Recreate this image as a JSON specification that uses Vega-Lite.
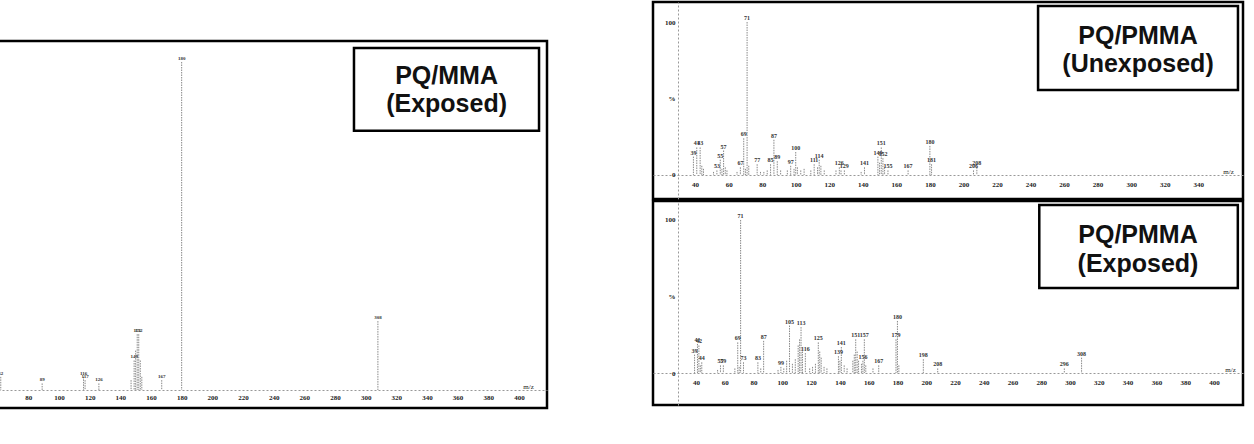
{
  "$schema": "https://vega.github.io/schema/vega-lite/v6.json",
  "padding": {"left": -4, "top": 0, "right": 0, "bottom": 0},
  "background": "white",
  "config": {
    "view": {"stroke": "black", "strokeWidth": 2.5},
    "axis": {"grid": false, "ticks": false, "labelOverlap": false, "labelFont": "Liberation Serif", "labelColor": "#222", "labelFontSize": 7, "labelFontWeight": "bold", "domainColor": "#999", "domainDash": [2, 2], "domainWidth": 1, "titleFont": "Liberation Serif", "titleFontSize": 7, "titleFontWeight": "normal", "titleColor": "#222"}
  },
  "datasets": {
    "mma_exposed": [
      {"mz": 61, "i": 2, "lab": ""}, {"mz": 62, "i": 4, "lab": "62"}, {"mz": 89, "i": 2, "lab": "89"},
      {"mz": 116, "i": 4, "lab": "116"}, {"mz": 117, "i": 3, "lab": "117"}, {"mz": 126, "i": 2, "lab": "126"},
      {"mz": 147, "i": 3, "lab": ""}, {"mz": 149, "i": 9, "lab": "149"}, {"mz": 150, "i": 12, "lab": ""},
      {"mz": 151, "i": 17, "lab": "151"}, {"mz": 152, "i": 17, "lab": "152"}, {"mz": 153, "i": 9, "lab": ""},
      {"mz": 154, "i": 4, "lab": ""}, {"mz": 167, "i": 3, "lab": "167"}, {"mz": 180, "i": 100, "lab": "180"},
      {"mz": 308, "i": 21, "lab": "308"}
    ],
    "pmma_unexposed": [
      {"mz": 39, "i": 12, "lab": "39"}, {"mz": 41, "i": 18, "lab": "41"}, {"mz": 43, "i": 18, "lab": "43"},
      {"mz": 44, "i": 6, "lab": ""}, {"mz": 45, "i": 4, "lab": ""}, {"mz": 51, "i": 2, "lab": ""},
      {"mz": 53, "i": 3, "lab": "53"}, {"mz": 55, "i": 10, "lab": "55"}, {"mz": 56, "i": 4, "lab": ""},
      {"mz": 57, "i": 16, "lab": "57"}, {"mz": 58, "i": 5, "lab": ""}, {"mz": 59, "i": 3, "lab": ""},
      {"mz": 65, "i": 2, "lab": ""}, {"mz": 67, "i": 5, "lab": "67"}, {"mz": 69, "i": 24, "lab": "69"},
      {"mz": 70, "i": 4, "lab": ""}, {"mz": 71, "i": 100, "lab": "71"}, {"mz": 72, "i": 6, "lab": ""},
      {"mz": 77, "i": 7, "lab": "77"}, {"mz": 79, "i": 2, "lab": ""}, {"mz": 81, "i": 2, "lab": ""},
      {"mz": 83, "i": 3, "lab": ""}, {"mz": 85, "i": 7, "lab": "85"}, {"mz": 87, "i": 23, "lab": "87"},
      {"mz": 89, "i": 9, "lab": "89"}, {"mz": 91, "i": 3, "lab": ""}, {"mz": 95, "i": 3, "lab": ""},
      {"mz": 97, "i": 6, "lab": "97"}, {"mz": 99, "i": 4, "lab": ""}, {"mz": 100, "i": 15, "lab": "100"},
      {"mz": 101, "i": 5, "lab": ""}, {"mz": 103, "i": 3, "lab": ""}, {"mz": 105, "i": 4, "lab": ""},
      {"mz": 109, "i": 3, "lab": ""}, {"mz": 111, "i": 7, "lab": "111"}, {"mz": 113, "i": 5, "lab": ""},
      {"mz": 114, "i": 10, "lab": "114"}, {"mz": 115, "i": 6, "lab": ""}, {"mz": 117, "i": 3, "lab": ""},
      {"mz": 124, "i": 3, "lab": ""}, {"mz": 126, "i": 5, "lab": "126"}, {"mz": 127, "i": 3, "lab": ""},
      {"mz": 129, "i": 3, "lab": "129"}, {"mz": 139, "i": 2, "lab": ""}, {"mz": 141, "i": 5, "lab": "141"},
      {"mz": 149, "i": 12, "lab": "149"}, {"mz": 150, "i": 8, "lab": ""}, {"mz": 151, "i": 18, "lab": "151"},
      {"mz": 152, "i": 11, "lab": "152"}, {"mz": 153, "i": 5, "lab": ""}, {"mz": 155, "i": 3, "lab": "155"},
      {"mz": 167, "i": 3, "lab": "167"}, {"mz": 180, "i": 19, "lab": "180"}, {"mz": 181, "i": 7, "lab": "181"},
      {"mz": 206, "i": 3, "lab": "206"}, {"mz": 208, "i": 5, "lab": "208"}
    ],
    "pmma_exposed": [
      {"mz": 39, "i": 12, "lab": "39"}, {"mz": 41, "i": 19, "lab": "41"}, {"mz": 42, "i": 18, "lab": "42"},
      {"mz": 43, "i": 5, "lab": ""}, {"mz": 44, "i": 7, "lab": "44"}, {"mz": 55, "i": 2, "lab": ""},
      {"mz": 57, "i": 5, "lab": "57"}, {"mz": 59, "i": 5, "lab": "59"}, {"mz": 67, "i": 3, "lab": ""},
      {"mz": 69, "i": 20, "lab": "69"}, {"mz": 70, "i": 4, "lab": ""}, {"mz": 71, "i": 100, "lab": "71"},
      {"mz": 73, "i": 7, "lab": "73"}, {"mz": 83, "i": 7, "lab": "83"}, {"mz": 85, "i": 3, "lab": ""},
      {"mz": 87, "i": 21, "lab": "87"}, {"mz": 97, "i": 2, "lab": ""}, {"mz": 99, "i": 4, "lab": "99"},
      {"mz": 101, "i": 3, "lab": ""}, {"mz": 103, "i": 8, "lab": ""}, {"mz": 105, "i": 31, "lab": "105"},
      {"mz": 107, "i": 6, "lab": ""}, {"mz": 109, "i": 9, "lab": ""}, {"mz": 111, "i": 18, "lab": ""},
      {"mz": 112, "i": 22, "lab": ""}, {"mz": 113, "i": 30, "lab": "113"}, {"mz": 114, "i": 14, "lab": ""},
      {"mz": 116, "i": 13, "lab": "116"}, {"mz": 119, "i": 3, "lab": ""}, {"mz": 121, "i": 4, "lab": ""},
      {"mz": 123, "i": 6, "lab": ""}, {"mz": 125, "i": 20, "lab": "125"}, {"mz": 126, "i": 14, "lab": ""},
      {"mz": 127, "i": 10, "lab": ""}, {"mz": 129, "i": 4, "lab": ""}, {"mz": 131, "i": 3, "lab": ""},
      {"mz": 139, "i": 11, "lab": "139"}, {"mz": 140, "i": 8, "lab": ""}, {"mz": 141, "i": 17, "lab": "141"},
      {"mz": 143, "i": 5, "lab": ""}, {"mz": 145, "i": 3, "lab": ""}, {"mz": 149, "i": 8, "lab": ""},
      {"mz": 150, "i": 12, "lab": ""}, {"mz": 151, "i": 22, "lab": "151"}, {"mz": 152, "i": 14, "lab": ""},
      {"mz": 153, "i": 8, "lab": ""}, {"mz": 155, "i": 6, "lab": ""}, {"mz": 156, "i": 8, "lab": "156"},
      {"mz": 157, "i": 22, "lab": "157"}, {"mz": 158, "i": 5, "lab": ""}, {"mz": 163, "i": 3, "lab": ""},
      {"mz": 167, "i": 5, "lab": "167"}, {"mz": 179, "i": 22, "lab": "179"}, {"mz": 180, "i": 34, "lab": "180"},
      {"mz": 181, "i": 5, "lab": ""}, {"mz": 198, "i": 9, "lab": "198"}, {"mz": 208, "i": 3, "lab": "208"},
      {"mz": 296, "i": 3, "lab": "296"}, {"mz": 308, "i": 10, "lab": "308"}
    ]
  },
  "spacing": 102,
  "hconcat": [
    {
      "spacing": 0,
      "vconcat": [
        {
          "width": 549,
          "height": 37,
          "view": {"stroke": null, "fill": "white"},
          "data": {"values": [{}]},
          "mark": {"type": "text", "text": ""}
        },
        {
          "width": 549,
          "height": 367,
          "layer": [
            {
              "data": {"name": "mma_exposed"},
              "encoding": {
                "x": {"field": "mz", "type": "quantitative", "scale": {"domain": [60.2, 418.3], "nice": false, "zero": false},
                      "axis": {"values": [80, 100, 120, 140, 160, 180, 200, 220, 240, 260, 280, 300, 320, 340, 360, 380, 400], "offset": -18, "labelPadding": 3, "title": "m/z", "titleX": 530, "titleY": -1, "titleBaseline": "bottom", "titleAlign": "center"}},
                "y": {"field": "i", "type": "quantitative", "scale": {"domain": [-5.49, 106.4], "nice": false, "zero": false}, "axis": null}
              },
              "layer": [
                {
                  "mark": {"type": "rule", "color": "#888", "strokeWidth": 1, "strokeDash": [1.5, 1]},
                  "encoding": {"y2": {"datum": 0}}
                },
                {
                  "mark": {"type": "text", "font": "Liberation Serif", "fontSize": 5, "fontWeight": "bold", "baseline": "bottom", "dy": -1, "color": "#333"},
                  "encoding": {"text": {"field": "lab"}}
                }
              ]
            },
            {
              "data": {"values": [{}]},
              "encoding": {
                "x": {"datum": 292.4, "type": "quantitative",
                      "axis": {"values": [80, 100, 120, 140, 160, 180, 200, 220, 240, 260, 280, 300, 320, 340, 360, 380, 400], "offset": -18, "labelPadding": 3, "title": "m/z", "titleX": 530, "titleY": -1, "titleBaseline": "bottom", "titleAlign": "center"}},
                "y": {"datum": 104.3, "type": "quantitative", "axis": null}
              },
              "layer": [
                {
                  "mark": {"type": "rect", "fill": "white", "stroke": "black", "strokeWidth": 2.5},
                  "encoding": {"x2": {"datum": 413.1}, "y2": {"datum": 79.0}}
                },
                {
                  "mark": {"type": "text", "text": ["PQ/MMA", "(Exposed)"], "font": "Liberation Sans", "fontWeight": "bold", "fontSize": 25, "lineHeight": 28, "align": "center", "baseline": "middle", "color": "#111"},
                  "encoding": {"x": {"datum": 352.8, "type": "quantitative"}, "y": {"datum": 95.7, "type": "quantitative"}}
                }
              ]
            }
          ]
        }
      ]
    },
    {
      "spacing": -2,
      "vconcat": [
        {
          "width": 590,
          "height": 197,
          "layer": [
            {
              "data": {"name": "pmma_unexposed"},
              "encoding": {
                "x": {"field": "mz", "type": "quantitative", "scale": {"domain": [14.9, 366.7], "nice": false, "zero": false},
                      "axis": {"values": [40, 60, 80, 100, 120, 140, 160, 180, 200, 220, 240, 260, 280, 300, 320, 340], "offset": -24, "labelPadding": 5, "title": "m/z", "titleX": 575, "titleY": -1, "titleBaseline": "bottom", "titleAlign": "center"}},
                "y": {"field": "i", "type": "quantitative", "scale": {"domain": [-15.7, 113.1], "nice": false, "zero": false},
                      "axis": {"values": [0, 50, 100], "labelExpr": "datum.value == 50 ? '%' : datum.label", "offset": -25, "labelPadding": 3, "title": null}}
              },
              "layer": [
                {
                  "mark": {"type": "rule", "color": "#888", "strokeWidth": 1, "strokeDash": [1.5, 1]},
                  "encoding": {"y2": {"datum": 0}}
                },
                {
                  "mark": {"type": "text", "font": "Liberation Serif", "fontSize": 6, "fontWeight": "bold", "baseline": "bottom", "dy": -1, "color": "#333"},
                  "encoding": {"text": {"field": "lab"}}
                }
              ]
            },
            {
              "data": {"values": [{}]},
              "encoding": {
                "x": {"datum": 244.5, "type": "quantitative",
                      "axis": {"values": [40, 60, 80, 100, 120, 140, 160, 180, 200, 220, 240, 260, 280, 300, 320, 340], "offset": -24, "labelPadding": 5, "title": "m/z", "titleX": 575, "titleY": -1, "titleBaseline": "bottom", "titleAlign": "center"}},
                "y": {"datum": 110.5, "type": "quantitative",
                      "axis": {"values": [0, 50, 100], "labelExpr": "datum.value == 50 ? '%' : datum.label", "offset": -25, "labelPadding": 3, "title": null}}
              },
              "layer": [
                {
                  "mark": {"type": "rect", "fill": "white", "stroke": "black", "strokeWidth": 2.5},
                  "encoding": {"x2": {"datum": 363.7}, "y2": {"datum": 55.6}}
                },
                {
                  "mark": {"type": "text", "text": ["PQ/PMMA", "(Unexposed)"], "font": "Liberation Sans", "fontWeight": "bold", "fontSize": 25, "lineHeight": 28, "align": "center", "baseline": "middle", "color": "#111"},
                  "encoding": {"x": {"datum": 304.1, "type": "quantitative"}, "y": {"datum": 91.0, "type": "quantitative"}}
                }
              ]
            }
          ]
        },
        {
          "width": 590,
          "height": 204,
          "layer": [
            {
              "data": {"name": "pmma_exposed"},
              "encoding": {
                "x": {"field": "mz", "type": "quantitative", "scale": {"domain": [10.1, 420.2], "nice": false, "zero": false},
                      "axis": {"values": [40, 60, 80, 100, 120, 140, 160, 180, 200, 220, 240, 260, 280, 300, 320, 340, 360, 380, 400], "offset": -32, "labelPadding": 5, "title": "m/z", "titleX": 577, "titleY": -1, "titleBaseline": "bottom", "titleAlign": "center"}},
                "y": {"field": "i", "type": "quantitative", "scale": {"domain": [-20.9, 112.4], "nice": false, "zero": false},
                      "axis": {"values": [0, 50, 100], "labelExpr": "datum.value == 50 ? '%' : datum.label", "offset": -25, "labelPadding": 3, "title": null}}
              },
              "layer": [
                {
                  "mark": {"type": "rule", "color": "#888", "strokeWidth": 1, "strokeDash": [1.5, 1]},
                  "encoding": {"y2": {"datum": 0}}
                },
                {
                  "mark": {"type": "text", "font": "Liberation Serif", "fontSize": 6, "fontWeight": "bold", "baseline": "bottom", "dy": -1, "color": "#333"},
                  "encoding": {"text": {"field": "lab"}}
                }
              ]
            },
            {
              "data": {"values": [{}]},
              "encoding": {
                "x": {"datum": 278.6, "type": "quantitative",
                      "axis": {"values": [40, 60, 80, 100, 120, 140, 160, 180, 200, 220, 240, 260, 280, 300, 320, 340, 360, 380, 400], "offset": -32, "labelPadding": 5, "title": "m/z", "titleX": 577, "titleY": -1, "titleBaseline": "bottom", "titleAlign": "center"}},
                "y": {"datum": 109.8, "type": "quantitative",
                      "axis": {"values": [0, 50, 100], "labelExpr": "datum.value == 50 ? '%' : datum.label", "offset": -25, "labelPadding": 3, "title": null}}
              },
              "layer": [
                {
                  "mark": {"type": "rect", "fill": "white", "stroke": "black", "strokeWidth": 2.5},
                  "encoding": {"x2": {"datum": 416.6}, "y2": {"datum": 55.6}}
                },
                {
                  "mark": {"type": "text", "text": ["PQ/PMMA", "(Exposed)"], "font": "Liberation Sans", "fontWeight": "bold", "fontSize": 25, "lineHeight": 29, "align": "center", "baseline": "middle", "color": "#111"},
                  "encoding": {"x": {"datum": 347.2, "type": "quantitative"}, "y": {"datum": 90.5, "type": "quantitative"}}
                }
              ]
            }
          ]
        }
      ]
    }
  ]
}
